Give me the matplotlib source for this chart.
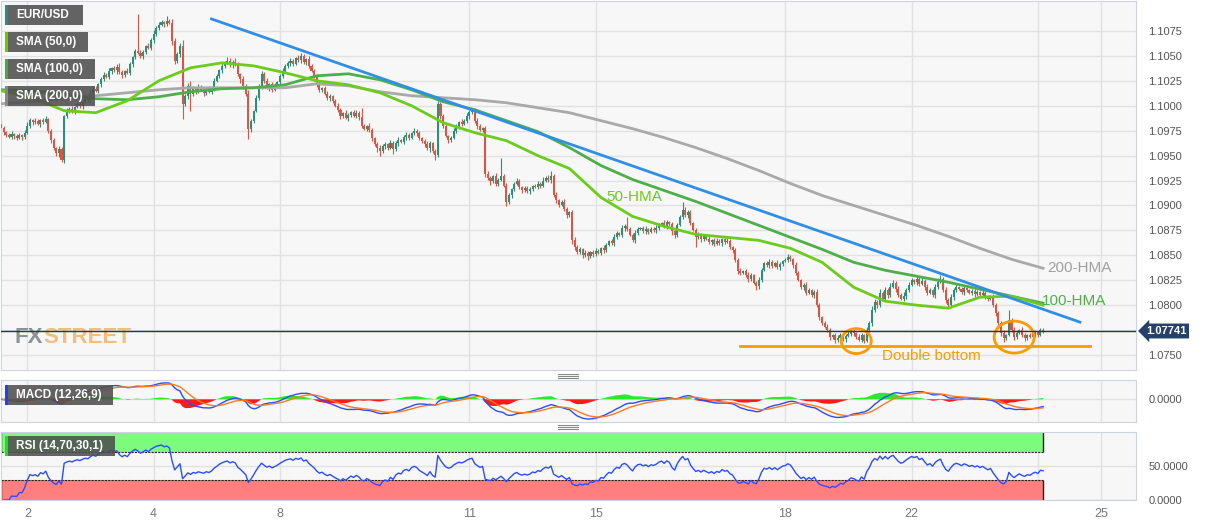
import numpy as np
import pandas as pd
import matplotlib
matplotlib.use("Agg")
import matplotlib.pyplot as plt
from matplotlib.patches import Rectangle, Ellipse
from matplotlib.lines import Line2D
from matplotlib.ticker import FuncFormatter

plt.rcParams['font.family'] = ['Liberation Sans', 'DejaVu Sans']

# EUR/USD hourly closes, pips above 1.0000
closes = [
    978, 974, 971, 969, 972, 970, 968, 971, 969, 973,
    980, 986, 984, 985, 982, 986, 984, 987, 975,
    966, 958, 953, 957, 946, 990,
    994, 997, 995, 999, 1002, 1000, 1004, 1007, 1006,
    1012, 1017, 1015, 1022, 1027, 1031, 1029, 1035, 1038,
    1036, 1039, 1034, 1031, 1035, 1033, 1042, 1049, 1055, 1053,
    1050, 1054, 1060, 1058, 1066, 1072, 1078, 1081, 1084, 1082, 1085, 1083,
    1065, 1045, 1052, 1060, 1002, 1010, 1020, 1012, 1018,
    1015, 1019, 1016, 1013, 1017, 1014, 1018, 1025, 1030, 1036, 1040, 1043,
    1045, 1041, 1044, 1042, 1032, 1027, 1020, 1012, 977, 985, 995, 1008, 1020, 1032,
    1025, 1018, 1022, 1016, 1020, 1024, 1030, 1035, 1040, 1043,
    1045, 1042, 1048, 1046, 1050, 1044, 1047, 1040, 1035, 1030,
    1022, 1016, 1018, 1012, 1008, 1010, 1005, 1000, 996, 990, 993, 988,
    991, 994, 990, 993, 989, 980, 977, 980, 976, 968, 962, 958, 955, 960,
    962, 958, 963, 957, 963, 966, 964, 969, 971, 968, 973, 975, 973, 968, 965,
    962, 958, 963, 955, 951, 1002, 990, 980, 970, 966, 968, 975, 980,
    984, 982, 985, 990, 994, 996, 985, 980, 976, 978, 932,
    928, 925, 930, 922, 926, 930, 920, 903, 910, 916, 922, 925,
    918, 915, 917, 914, 916, 920, 918, 922, 920, 925, 928, 926, 930,
    910, 905, 900, 903, 896, 890, 893, 865,
    858, 853, 856, 850, 852, 849, 853, 851, 854, 852, 857, 855,
    860, 864, 862, 868, 872, 870, 877, 879, 876, 870, 865, 872, 876,
    877, 874, 876, 873, 876, 875, 877, 880, 882, 879, 883, 881, 874, 870,
    880, 888, 895, 890, 893, 882, 875, 868, 870, 866, 869,
    866, 863, 865, 861, 864, 862, 866, 863, 864, 858, 855, 845, 834,
    832, 834, 830, 826, 830, 822, 819, 825, 835, 842,
    840, 843, 839, 842, 838, 841, 844, 845, 848, 846, 840, 832,
    825, 818, 820, 812, 815, 810, 813, 800, 788, 782, 778, 775,
    768, 770, 765, 767, 770, 766, 769, 771, 774, 772, 768, 765, 770, 764,
    775, 782, 795, 803, 800, 812, 806, 815, 810, 818, 822, 816, 810, 806, 809,
    815, 820, 825, 823, 826, 821, 824, 818, 812, 815, 810, 818, 823, 826,
    815, 805, 800, 808, 815, 818, 816, 813, 817, 815, 812,
    814, 811, 813, 810, 812, 809, 806, 808, 800, 792, 782,
    772, 767, 770, 785, 775, 768, 772, 775, 770, 767, 770, 768,
    771, 773, 770, 775, 774,
]
first_open = 982

# upper / lower wick length of each candle, pips
wick_up = [
    3, 2, 1, 2, 3, 1, 2, 2, 1, 3, 4, 2, 1, 3, 2, 1, 2, 3, 1, 2,
    2, 1, 3, 2, 1, 4, 2, 3, 1, 2, 3, 2, 1, 2, 4, 2, 3, 1, 2, 3,
    2, 3, 1, 2, 3, 4, 2, 1, 3, 2, 1, 2, 37, 3, 2, 1, 3, 2, 4, 2,
    3, 2, 1, 5, 2, 4, 3, 2, 3, 6, 2, 3, 5, 2, 1, 3, 2, 1, 2, 3,
    2, 3, 2, 1, 3, 2, 4, 3, 2, 4, 2, 1, 3, 2, 4, 2, 1, 3, 2, 3,
    2, 3, 1, 2, 3, 1, 2, 3, 2, 2, 3, 2, 1, 3, 3, 2, 1, 3, 2, 2,
    2, 3, 1, 2, 3, 2, 1, 2, 3, 2, 1, 3, 2, 1, 2, 3, 2, 9, 2, 1,
    3, 2, 1, 2, 3, 2, 2, 1, 3, 2, 2, 3, 1, 2, 3, 2, 1, 3, 2, 2,
    1, 2, 3, 2, 1, 2, 3, 2, 2, 3, 1, 2, 3, 2, 1, 3, 2, 3, 2, 2,
    2, 3, 2, 1, 2, 3, 2, 1, 3, 2, 18, 2, 3, 2, 1, 2, 3, 2, 1, 2,
    3, 2, 1, 2, 3, 2, 4, 2, 3, 5, 2, 3, 1, 2, 3, 2, 1, 2, 3, 2,
    2, 1, 3, 2, 1, 2, 3, 2, 1, 3, 2, 1, 2, 3, 2, 1, 3, 2, 9, 2,
    2, 3, 2, 1, 2, 3, 1, 2, 2, 3, 2, 1, 3, 2, 1, 2, 3, 2, 2, 8,
    3, 2, 2, 1, 2, 3, 2, 1, 2, 3, 1, 2, 3, 2, 1, 2, 3, 2, 1, 2,
    2, 3, 1, 2, 3, 2, 1, 2, 3, 2, 1, 2, 3, 2, 1, 3, 2, 1, 2, 3,
    2, 1, 3, 2, 1, 2, 3, 2, 1, 2, 3, 2, 1, 2, 3, 2, 1, 2, 3, 2,
    1, 2, 3, 2, 2, 1, 3, 2, 1, 3, 2, 4, 3, 2, 4, 2, 3, 2, 4, 3,
    2, 3, 2, 4, 2, 3, 2, 1, 3, 2, 4, 2, 3, 2, 1, 3, 4, 4, 2, 3,
    2, 3, 2, 3, 1, 2, 3, 2, 1, 2, 3, 2, 1, 3, 2, 1, 2, 3, 2, 2,
    2, 3, 1, 10, 2, 3, 2, 1, 3, 2, 1, 2, 3, 2, 1, 2, 2,
]
wick_dn = [
    2, 3, 2, 1, 2, 3, 2, 1, 3, 2, 1, 2, 3, 2, 1, 3, 2, 1, 2, 3,
    2, 3, 4, 2, 3, 2, 1, 2, 3, 1, 2, 3, 1, 2, 3, 2, 1, 2, 3, 2,
    1, 2, 3, 2, 4, 2, 3, 2, 1, 2, 3, 2, 1, 2, 3, 2, 1, 2, 3, 2,
    2, 1, 3, 2, 1, 4, 3, 2, 3, 15, 2, 3, 17, 2, 3, 2, 1, 3, 2, 1,
    2, 3, 1, 2, 3, 2, 1, 2, 3, 2, 2, 4, 3, 2, 10, 3, 2, 1, 2, 3,
    2, 1, 3, 2, 1, 2, 3, 2, 1, 2, 3, 2, 1, 2, 3, 2, 3, 2, 1, 2,
    3, 2, 2, 1, 2, 3, 2, 1, 2, 3, 2, 1, 3, 2, 1, 2, 3, 2, 1, 2,
    2, 3, 2, 4, 5, 2, 3, 2, 1, 5, 2, 3, 1, 2, 3, 2, 1, 2, 3, 2,
    2, 3, 2, 4, 2, 5, 2, 3, 2, 1, 3, 2, 1, 2, 3, 2, 1, 2, 3, 2,
    2, 3, 1, 2, 3, 2, 4, 2, 3, 2, 1, 2, 4, 2, 3, 2, 1, 2, 3, 2,
    2, 3, 2, 1, 2, 3, 2, 1, 2, 3, 2, 3, 2, 1, 2, 3, 2, 4, 3, 2,
    2, 3, 2, 4, 2, 3, 2, 1, 2, 3, 2, 1, 2, 3, 2, 1, 2, 3, 2, 1,
    2, 3, 2, 1, 2, 3, 2, 1, 2, 3, 2, 1, 2, 3, 2, 4, 3, 2, 1, 2,
    2, 3, 2, 1, 10, 2, 3, 2, 1, 2, 3, 2, 1, 2, 3, 2, 1, 2, 3, 2,
    3, 2, 1, 2, 3, 2, 1, 4, 3, 2, 1, 2, 3, 2, 1, 2, 3, 2, 1, 2,
    2, 3, 2, 1, 2, 3, 2, 1, 2, 3, 2, 3, 2, 1, 2, 3, 2, 3, 2, 1,
    2, 3, 1, 2, 3, 2, 1, 2, 2, 1, 2, 3, 2, 3, 2, 1, 2, 3, 2, 1,
    3, 2, 1, 2, 3, 2, 1, 2, 3, 2, 1, 3, 2, 1, 2, 3, 2, 1, 2, 3,
    2, 1, 3, 2, 1, 2, 3, 2, 1, 2, 3, 2, 1, 2, 3, 2, 1, 2, 3, 2,
    3, 4, 2, 1, 2, 3, 2, 1, 2, 3, 2, 1, 2, 3, 2, 1, 2,
]

# moving averages read every 12 bars, pips above 1.0000
ma_step = 12
sma50 = [1015, 1008, 995, 993, 1005, 1025, 1038, 1043, 1040, 1033, 1025, 1021,
         1013, 1000, 983, 973, 965, 950, 937, 908, 889, 879, 871, 868, 865,
         857, 843, 818, 804, 800, 797, 808, 809, 800]
sma100 = [1016, 1015, 1012, 1007, 1006, 1009, 1014, 1017, 1018, 1021, 1030, 1032,
          1026, 1016, 1004, 996, 985, 974, 958, 940, 926, 915, 904, 892, 880,
          868, 856, 843, 835, 829, 823, 816, 809, 802]
sma200 = [1002, 1004, 1007, 1010, 1013, 1016, 1018, 1018, 1018, 1018, 1022, 1020,
          1014, 1010, 1008, 1006, 1003, 998, 993, 985, 977, 968, 958, 947, 935,
          922, 910, 900, 890, 880, 869, 857, 846, 837]

trend_bars = [80, 410]
trend_price = [1.1087, 1.0783]
support_bars = [281, 414]
support_price = 1.0759
last_price = 1.07741

tick_days = [2, 4, 8, 11, 15, 18, 22, 25]
tick_day_idx = [0, 2, 4, 7, 9, 12, 14, 17]
grid_day_idx = [0, 2, 4, 7, 9, 12, 14, 16, 17]
first_day_bar = 10
bars_per_day = 24

# ---- build series
c = 1 + np.array(closes) / 1e4
o = np.r_[1 + first_open / 1e4, c[:-1]]
hi = np.maximum(o, c) + np.array(wick_up) / 1e4
lo = np.minimum(o, c) - np.array(wick_dn) / 1e4
x = np.arange(len(c))
last_bar = x[-1]

W, H = 1207, 526
fig = plt.figure(figsize=(W / 100, H / 100), dpi=100)


def rect(x0, y0, x1, y1):
    return [x0 / W, 1 - y1 / H, (x1 - x0) / W, (y1 - y0) / H]


ax = fig.add_axes(rect(1, 1, 1136, 370))
axm = fig.add_axes(rect(1, 380, 1136, 422), sharex=ax)
axr = fig.add_axes(rect(1, 432, 1136, 500), sharex=ax)

fmt = FuncFormatter(lambda v, _: f"{abs(v) if abs(v) < 1e-9 else v:.4f}")
# the 1.0775 label sits under the last-price marker, so it is left blank
main_fmt = FuncFormatter(lambda v, _: '' if abs(v - 1.0775) < 1e-6 else f"{v:.4f}")
for a in (ax, axm, axr):
    a.set_facecolor('#f7f7f7')
    for s in a.spines.values():
        s.set_color('#cdd3e2')
    a.yaxis.tick_right()
    a.tick_params(axis='y', length=0, pad=9, labelsize=8, labelcolor='#555555')
    a.tick_params(axis='x', length=0)
    a.grid(True, color='#e2e2e2', lw=1)
    a.set_axisbelow(True)
    a.yaxis.set_major_formatter(fmt)
ax.yaxis.set_major_formatter(main_fmt)

day_label = dict(zip(tick_day_idx, tick_days))
xt = [first_day_bar + bars_per_day * k for k in grid_day_idx]
axr.set_xticks(xt)
axr.set_xticklabels([str(day_label.get(k, '')) for k in grid_day_idx])
axr.tick_params(axis='x', labelsize=9, labelcolor='#777777', pad=6)
ax.tick_params(axis='x', labelbottom=False)
axm.tick_params(axis='x', labelbottom=False)
ax.set_xlim(0, 431.3)

# ---- main panel
col = np.where(c >= o, '#2e8f77', '#d95545')
ax.vlines(x, lo, hi, colors=col, lw=0.8, zorder=2)
body = np.maximum(np.abs(c - o), 0.00006)
ax.bar(x, body, bottom=np.minimum(o, c), width=0.78, color=col, lw=0, zorder=3)

mx = np.arange(0, len(c), ma_step)
ax.plot(mx, 1 + np.array(sma200) / 1e4, color='#a9a9a9', lw=2, zorder=4)
ax.plot(mx, 1 + np.array(sma100) / 1e4, color='#4cb04a', lw=2, zorder=4)
ax.plot(mx, 1 + np.array(sma50) / 1e4, color='#6ccc1c', lw=2, zorder=4)

ax.plot(trend_bars, trend_price, color='#2f8fe6', lw=2, zorder=5)
ax.plot(support_bars, [support_price] * 2, color='#ff9a00', lw=2, zorder=5)
ax.add_patch(Ellipse((325, 1.0764), 11.4, 0.0025, fill=False, ec='#ff9a00', lw=2, zorder=5))
ax.add_patch(Ellipse((385, 1.0768), 15.2, 0.0032, fill=False, ec='#ff9a00', lw=2, zorder=5))

ax.text(230, 1.0908, '50-HMA', color='#6ccc1c', fontsize=11, va='center', zorder=6)
ax.text(395.5, 1.0804, '100-HMA', color='#4cb04a', fontsize=11, va='center', zorder=6)
ax.text(397.5, 1.0837, '200-HMA', color='#a0a0a0', fontsize=11, va='center', zorder=6)
ax.text(353.6, 1.0749, 'Double bottom', color='#ff9a00', fontsize=11,
        ha='center', va='center', zorder=6)

ax.axhline(last_price, color='#1f3558', lw=1, zorder=6)
ax.text(1.009, last_price, '1.07741', transform=ax.get_yaxis_transform(),
        ha='left', va='center', color='white', fontsize=8, fontweight='bold',
        bbox=dict(boxstyle='larrow,pad=0.22', fc='#25406a', ec='none'), clip_on=False)

ax.set_ylim(1.0735, 1.1105)
ax.set_yticks(np.arange(1.0750, 1.10751, 0.0025))

wm = ax.text(14 / 1135, 1.0768, 'FX', transform=ax.get_yaxis_transform(),
             color='#8c9099', fontsize=16, fontweight='bold', va='center', zorder=1)
ax.annotate('STREET', xy=(1, 0), xycoords=wm, va='bottom', ha='left',
            color='#f3bd7c', fontsize=16, fontweight='bold', zorder=1)

# ---- MACD
cs = pd.Series(c)
macd = cs.ewm(span=12, adjust=False).mean() - cs.ewm(span=26, adjust=False).mean()
sig = macd.ewm(span=9, adjust=False).mean()
hist = (macd - sig).values
axm.fill_between(x, 0, hist, where=hist >= 0, color='#2ee82e', lw=0, interpolate=True, zorder=2)
axm.fill_between(x, 0, hist, where=hist < 0, color='#ff1a1a', lw=0, interpolate=True, zorder=2)
axm.plot(x, macd, color='#2a4dff', lw=1, zorder=3)
axm.plot(x, sig, color='#ff7b1c', lw=1, zorder=3)
top = max(macd.max(), sig.max())
bot = min(macd.min(), sig.min())
span = top - bot
axm.set_ylim(bot - 0.08 * span, top + 0.08 * span)
axm.set_yticks([0.0])

# ---- RSI
d = cs.diff()
ag = d.clip(lower=0).ewm(alpha=1 / 14, adjust=False).mean()
al = (-d.clip(upper=0)).ewm(alpha=1 / 14, adjust=False).mean()
rsi = 100 - 100 / (1 + ag / al)
axr.add_patch(Rectangle((0, 70), last_bar, 30, fc='#7dfb7d', ec='none', zorder=1))
axr.add_patch(Rectangle((0, 0), last_bar, 30, fc='#ff7f7f', ec='none', zorder=1))
axr.hlines([30, 70], 0, last_bar, colors='#222222', linestyles=(0, (2, 1)), lw=0.8, zorder=2)
axr.vlines([0, last_bar], 70, 100, colors='#222222', lw=1, zorder=2)
axr.vlines([0, last_bar], 0, 30, colors='#222222', lw=1, zorder=2)
axr.plot(x, rsi, color='#2a4dff', lw=1, zorder=3)
axr.set_ylim(0, 100)
axr.set_yticks([0, 50])

# ---- legend boxes
boxes = [
    ('EUR/USD', 5, 5, 83, 25, '#2a8c80'),
    ('SMA (50,0)', 5, 32, 88, 52, '#66cc00'),
    ('SMA (100,0)', 5, 59, 95, 79, '#44aa44'),
    ('SMA (200,0)', 5, 86, 95, 106, '#888888'),
    ('MACD (12,26,9)', 5, 385, 113, 405, '#2040ff'),
    ('RSI (14,70,30,1)', 5, 436, 115, 456, '#22dd22'),
]
for label, x0, y0, x1, y1, sc in boxes:
    fig.add_artist(Rectangle((x0 / W, 1 - y1 / H), (x1 - x0) / W, (y1 - y0) / H,
                             transform=fig.transFigure, fc='#4f4f4f', alpha=0.88, ec='none'))
    fig.add_artist(Rectangle((x0 / W, 1 - y1 / H), 2.5 / W, (y1 - y0) / H,
                             transform=fig.transFigure, fc=sc, ec='none'))
    fig.text((x0 + 11) / W, 1 - (y0 + y1) / 2 / H, label, color='white',
             fontsize=8.5, fontweight='bold', va='center')

# panel resize handles
for yc in (376, 427):
    for dy in (-2, 0, 2):
        fig.add_artist(Line2D([558 / W, 578 / W], [1 - (yc + dy) / H] * 2,
                              transform=fig.transFigure, color='#8a8a8a', lw=0.8))

fig.savefig('out.png', dpi=100)
